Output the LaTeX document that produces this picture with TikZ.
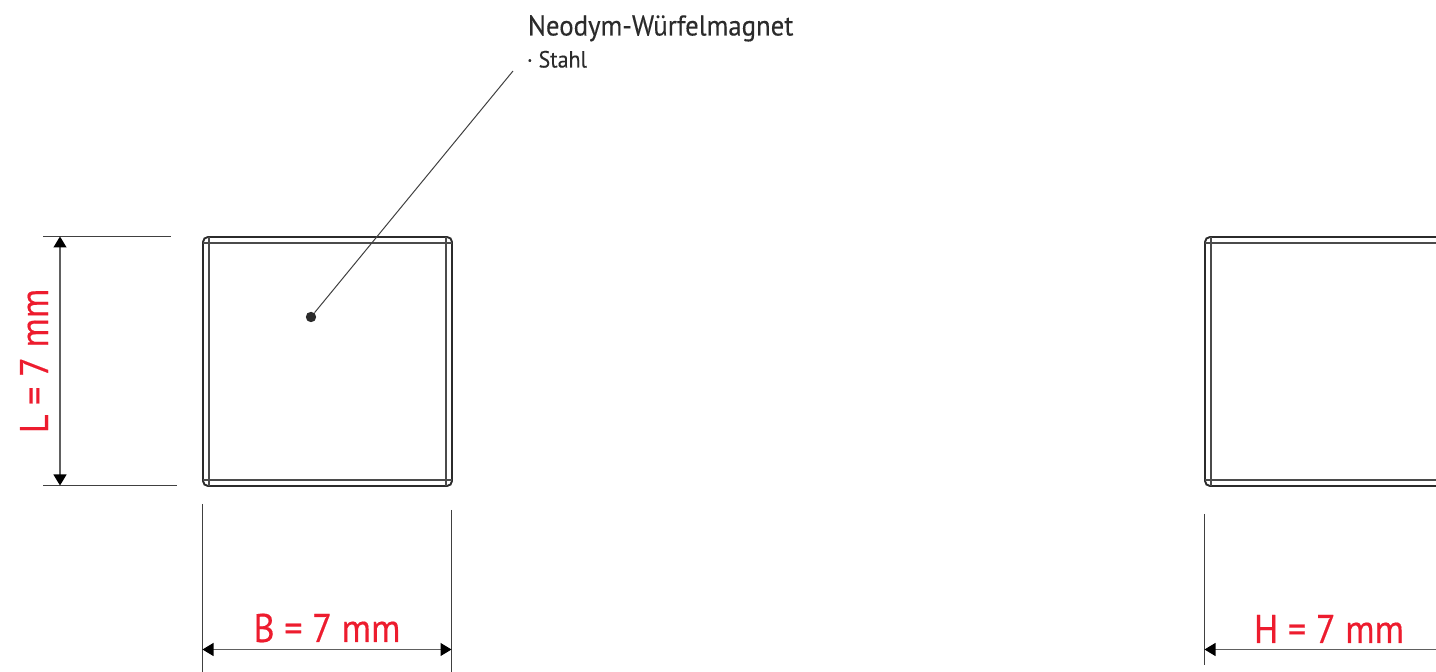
\documentclass[tikz,border=0pt]{standalone}
\usepackage{fontspec}
\setmainfont{PT Sans}
\newfontfamily\dimfont[FakeStretch=0.905,FakeBold=0.35]{PT Sans}
\newfontfamily\labelfont[FakeStretch=0.937,FakeBold=0.25]{PT Sans}
\usetikzlibrary{arrows.meta}
\definecolor{dimred}{HTML}{ED1C2E}
\definecolor{inkgray}{HTML}{2B2B2B}
\tikzset{
  outline/.style={draw=inkgray, line width=0.95pt, rounded corners=2.5pt},
  edgeline/.style={draw=inkgray!85, line width=0.55pt},
  helpline/.style={draw=inkgray!90, line width=0.5pt},
  dimline/.style={draw=inkgray!75, line width=0.6pt, {Triangle[length=5.5pt,width=6.5pt,black]}-{Triangle[length=5.5pt,width=6.5pt,black]}},
  dimend/.style={draw=inkgray!75, line width=0.6pt, {Triangle[length=5.5pt,width=6.5pt,black]}-},
  dimtext/.style={text=dimred, font=\dimfont\fontsize{20}{22}\selectfont, inner sep=0pt},
}
\begin{document}
\begin{tikzpicture}[x=0.5pt, y=-0.5pt]
\useasboundingbox (0,0) rectangle (1436,672);
% front view
\node[outline, minimum width=124.5pt, minimum height=124.5pt, inner sep=0pt] (front) at (327.5,361.5){};
\draw[edgeline] (209,237) -- (209,486);
\draw[edgeline] (446,237) -- (446,486);
\draw[edgeline] (203,243) -- (452,243);
\draw[edgeline] (203,480) -- (452,480);
% side view
\draw[outline] (1436,237) -- (1205,237) -- (1205,486) -- (1436,486);
\draw[edgeline] (1211,237) -- (1211,486);
\draw[edgeline] (1205,243) -- (1436,243);
\draw[edgeline] (1205,480) -- (1436,480);
% title and leader
\node[anchor=base west, inner sep=0pt, text=inkgray, font=\labelfont\fontsize{14.3}{16}\selectfont] (title) at (527.5,35.5){Neodym-Würfelmagnet};
\node[anchor=base west, inner sep=0pt, text=inkgray, font=\labelfont\fontsize{11.7}{13}\selectfont] (material) at (526.5,67.5){· Stahl};
\node[circle, fill=inkgray, inner sep=0pt, minimum size=5.2pt] (dot) at (311,317){};
\coordinate (leadend) at (513,71);
\draw[helpline] (dot) -- (leadend);
% length
\coordinate (ltopa) at (43,236.5);
\coordinate (ltopb) at (171,236.5);
\coordinate (lbota) at (43,485.5);
\coordinate (lbotb) at (177,485.5);
\coordinate (larrowa) at (60,236.5);
\coordinate (larrowb) at (60,485.5);
\draw[helpline] (ltopa) -- (ltopb);
\draw[helpline] (lbota) -- (lbotb);
\draw[dimline] (larrowa) -- (larrowb);
\node[dimtext, rotate=90, anchor=base] (ltext) at (48,361){L = 7 mm};
% width
\coordinate (bla) at (202.5,504);
\coordinate (blb) at (202.5,672);
\coordinate (bra) at (451.5,510);
\coordinate (brb) at (451.5,672);
\coordinate (barrowa) at (202.5,649.5);
\coordinate (barrowb) at (451.5,649.5);
\draw[helpline] (bla) -- (blb);
\draw[helpline] (bra) -- (brb);
\draw[dimline] (barrowa) -- (barrowb);
\node[dimtext, anchor=base] (btext) at (327,642){B = 7 mm};
% height
\coordinate (hla) at (1204.5,514);
\coordinate (hlb) at (1204.5,665);
\coordinate (harrowa) at (1204.5,649.5);
\coordinate (harrowb) at (1436,649.5);
\draw[helpline] (hla) -- (hlb);
\draw[dimend] (harrowa) -- (harrowb);
\node[dimtext, anchor=base] (htext) at (1329,643){H = 7 mm};
\end{tikzpicture}
\end{document}
